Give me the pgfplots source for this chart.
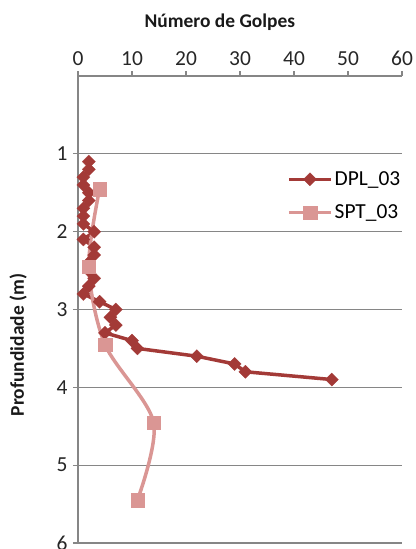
\documentclass[border=0pt]{standalone}
\usepackage{pgfplots}
\pgfplotsset{compat=1.18}
\usepackage{fontspec}
\setmainfont{Carlito}
\definecolor{dpl}{RGB}{163,58,55}
\definecolor{spt}{RGB}{218,150,148}
\definecolor{gridgray}{RGB}{134,134,134}
\begin{document}
\begin{tikzpicture}
\begin{axis}[
  width=324bp, height=467bp, scale only axis,
  xmin=0, xmax=60, ymin=0, ymax=6, y dir=reverse,
  axis x line*=top, axis y line*=left,
  xtick={0,10,...,60}, ytick={1,...,6},
  ymajorgrids, grid style={gridgray, line width=1.2bp},
  axis line style={gridgray, line width=1.2bp},
  tick style={gridgray, line width=1.2bp},
  tick align=outside, major tick length=5bp,
  ticklabel style={font=\fontsize{21.5}{24}\selectfont, text=black!85},
  xticklabel style={yshift=2bp},
  yticklabel style={xshift=-2bp},
  /pgf/number format/assume math mode=true,
  xlabel={Número de Golpes}, ylabel={Profundidade (m)},
  label style={font=\fontsize{19.5}{22}\selectfont\bfseries, text=black!90},
  xlabel style={at={(axis description cs:0.438,1.1156)}, anchor=center},
  ylabel style={at={(axis description cs:-0.185,0.424)}, anchor=center},
  legend style={at={(axis description cs:0.645,0.80)}, anchor=north west, draw=none, fill=none,
    font=\fontsize{21.5}{24}\selectfont, row sep=14bp, inner sep=0pt},
  legend cell align=left,
  legend image code/.code={\draw[mark repeat=2,mark phase=2,#1] plot coordinates {(0bp,0bp) (21bp,0bp) (42bp,0bp)};},
]
\addplot[dpl, line width=3.5bp, mark=square*, mark size=4.7bp,
  mark options={rotate=45, solid, fill=dpl, draw=dpl, line width=0.1bp}] coordinates {
  (2,1.1) (2,1.2) (1,1.3) (1,1.4) (2,1.5) (2,1.6) (1,1.7) (1,1.8) (1,1.9) (3,2.0)
  (1,2.1) (3,2.2) (3,2.3) (2,2.4) (2,2.5) (3,2.6) (2,2.7) (1,2.8) (4,2.9) (7,3.0)
  (6,3.1) (7,3.2) (5,3.3) (10,3.4) (11,3.5) (22,3.6) (29,3.7) (31,3.8) (47,3.9)
};
\addlegendentry{DPL\_03}
\addplot[spt, line width=3.5bp, smooth, mark=square*, mark size=6.7bp,
  mark options={solid, fill=spt, draw=spt, line width=0.1bp}] coordinates {
  (4,1.45) (2,2.45) (5,3.45) (14,4.45) (11,5.45)
};
\addlegendentry{SPT\_03}
\end{axis}
\pgfresetboundingbox
\path ([shift={(-78bp,-6bp)}]current axis.south west) rectangle ([shift={(14bp,76bp)}]current axis.north east);
\end{tikzpicture}
\end{document}
